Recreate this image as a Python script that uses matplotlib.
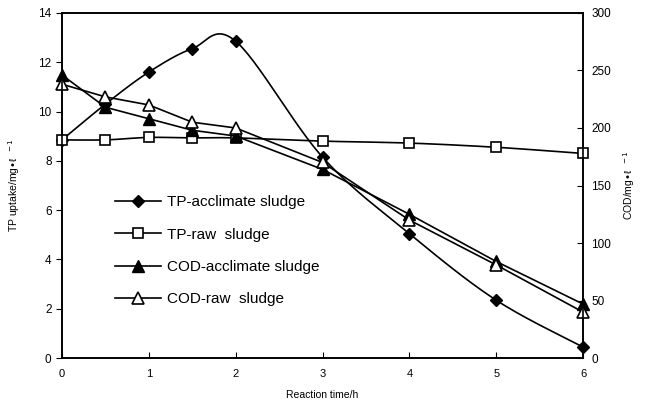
import numpy as np
import matplotlib
matplotlib.use("Agg")
import matplotlib.pyplot as plt
from matplotlib.lines import Line2D

plt.rcParams['font.family'] = ['Liberation Sans', 'DejaVu Sans']

time_h = [0, 0.5, 1, 1.5, 2, 3, 4, 5, 6]
tp_acclimate = [8.85, 10.3, 11.6, 12.55, 12.85, 8.15, 5.05, 2.35, 0.45]
tp_raw = [8.85, 8.85, 8.95, 8.93, 8.93, 8.8, 8.72, 8.55, 8.3]
cod_acclimate = [246, 218, 208, 198, 193, 164, 125, 84, 47]
cod_raw = [238, 227, 220, 205, 200, 170, 120, 81, 40]


def smooth(x, y, n=30):
    # catmull-rom through the points, like excel's smoothed line
    p = np.column_stack([x, y]).astype(float)
    p = np.vstack([p[0], p, p[-1]])
    out = []
    for i in range(1, len(p) - 2):
        p0, p1, p2, p3 = p[i - 1], p[i], p[i + 1], p[i + 2]
        t = np.linspace(0, 1, n)[:, None]
        seg = 0.5 * ((2 * p1) + (-p0 + p2) * t + (2 * p0 - 5 * p1 + 4 * p2 - p3) * t ** 2
                     + (-p0 + 3 * p1 - 3 * p2 + p3) * t ** 3)
        out.append(seg)
    s = np.vstack(out)
    return s[:, 0], s[:, 1]


fig = plt.figure(figsize=(6.46, 4.15), dpi=100)
ax = fig.add_axes([0.096, 0.137, 0.8065, 0.832])
ax2 = ax.twinx()

ms = 7.5
sx, sy = smooth(time_h, tp_acclimate)
ax.plot(sx, sy, color='black', lw=1.2, clip_on=False)
ax.plot(time_h, tp_acclimate, ls='none', marker='D', ms=ms - 1, color='black', clip_on=False, zorder=3)
sx, sy = smooth(time_h, tp_raw)
ax.plot(sx, sy, color='black', lw=1.2, clip_on=False)
ax.plot(time_h, tp_raw, ls='none', marker='s', ms=ms, mfc='white', mec='black', mew=1.2,
        clip_on=False, zorder=3)

ax2.plot(time_h, cod_acclimate, color='black', lw=1.2, marker='^', ms=ms + 1, mfc='black', mec='black',
         clip_on=False)
ax2.plot(time_h, cod_raw, color='black', lw=1.2, marker='^', ms=ms + 1, mfc='white', mec='black', mew=1.2,
         clip_on=False)

ax.set_xlim(0, 6)
ax.set_ylim(0, 14)
ax2.set_ylim(0, 300)
ax.set_xticks(range(0, 7))
ax.set_yticks(range(0, 15, 2))
ax2.set_yticks(range(0, 301, 50))

ax.tick_params(axis='x', direction='in', length=4, labelsize=8, pad=8)
ax.tick_params(axis='y', direction='out', length=4, labelsize=8.5)
ax2.tick_params(axis='y', direction='in', length=4, labelsize=8.5, pad=6)

for a in (ax, ax2):
    for sp in a.spines.values():
        sp.set_linewidth(1.2)

ax.set_xlabel('Reaction time/h', fontsize=7.5, labelpad=8)
ax.set_ylabel('TP uptake/mg\u2022\u2113$^{\\ \\ -1}$', fontsize=7.5, labelpad=12)
ax2.set_ylabel('COD/mg\u2022\u2113$^{\\ \\ -1}$', fontsize=7.5, labelpad=7)

handles = [
    Line2D([], [], color='black', lw=1.2, marker='D', ms=ms - 1),
    Line2D([], [], color='black', lw=1.2, marker='s', ms=ms, mfc='white', mew=1.2),
    Line2D([], [], color='black', lw=1.2, marker='^', ms=ms + 1),
    Line2D([], [], color='black', lw=1.2, marker='^', ms=ms + 1, mfc='white', mew=1.2),
]
labels = ['TP-acclimate sludge', 'TP-raw  sludge', 'COD-acclimate sludge', 'COD-raw  sludge']
ax.legend(handles, labels, loc='lower left', bbox_to_anchor=(0.075, 0.11), frameon=False,
          fontsize=11, handlelength=3.0, labelspacing=1.2, handletextpad=0.4)

fig.savefig('out.png', dpi=100)
